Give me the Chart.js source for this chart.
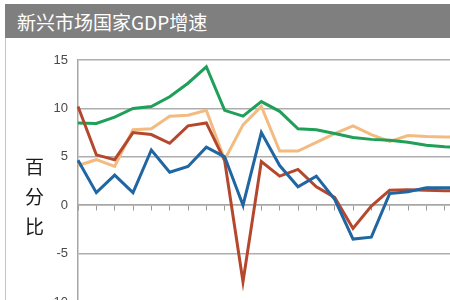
<!DOCTYPE html>
<html>
<head>
<meta charset="utf-8">
<script src="https://cdn.jsdelivr.net/npm/chart.js@4/dist/chart.umd.min.js"></script>
<style>
    html, body { margin: 0; padding: 0; width: 450px; height: 300px; overflow: hidden; background: #fff; }
    #wrap { position: relative; width: 450px; height: 300px; overflow: hidden; }
    #myChart { position: absolute; left: 0; top: 0; }
    #title {
        position: absolute; left: 5px; top: 4px; width: 445px; height: 34px;
        background: #7f7f7f; color: #fff; box-sizing: border-box; padding-left: 12px;
        font: 19px "Noto Sans CJK SC", sans-serif; line-height: 36px; white-space: nowrap;
    }
    #frame { position: absolute; left: 5px; top: 38px; width: 1px; height: 262px; background: #c4c4c4; }
    #ylabel {
        position: absolute; left: 25px; top: 151px; width: 20px;
        font: 19px "Noto Sans CJK SC", sans-serif; line-height: 30px; color: #1a1a1a;
    }
</style>
</head>
<body>
<div id="wrap">
    <canvas id="myChart" width="480" height="320"></canvas>
    <div id="title">新兴市场国家GDP增速</div>
    <div id="frame"></div>
    <div id="ylabel">百<br>分<br>比</div>
</div>
<script>
const years = ['2000', '2001', '2002', '2003', '2004', '2005', '2006', '2007', '2008', '2009', '2010',
               '2011', '2012', '2013', '2014', '2015', '2016', '2017', '2018', '2019', '2020', '2021'];

const china  = [8.5, 8.45, 9.1, 10.0, 10.2, 11.2, 12.6, 14.3, 9.8, 9.2, 10.7, 9.7, 7.9, 7.8, 7.4, 7.0, 6.8, 6.7, 6.5, 6.2, 6.05, 5.95];
const india  = [4.1, 4.7, 4.0, 7.8, 7.9, 9.2, 9.3, 9.8, 4.7, 8.3, 10.2, 5.6, 5.6, 6.5, 7.4, 8.2, 7.3, 6.6, 7.2, 7.1, 7.05, 7.05];
const russia = [10.2, 5.2, 4.7, 7.5, 7.3, 6.4, 8.2, 8.5, 4.6, -7.9, 4.5, 3.0, 3.7, 1.9, 0.8, -2.4, -0.1, 1.55, 1.6, 1.55, 1.5, 1.5];
const brazil = [4.65, 1.3, 3.1, 1.3, 5.7, 3.4, 4.0, 6.0, 5.0, 0.0, 7.5, 4.1, 1.9, 3.0, 0.6, -3.5, -3.3, 1.2, 1.4, 1.8, 1.8, 1.8];

const yMin = -10;
const yMax = 15;
const yStep = 5;

function line(label, data, color, order) {
    return {
        label: label,
        data: data,
        borderColor: color,
        backgroundColor: color,
        borderWidth: 3,
        pointRadius: 0,
        tension: 0,
        fill: false,
        order: order,
    };
}

const ctx = document.getElementById('myChart').getContext('2d');

const myChart = new Chart(ctx, {
    type: 'line',
    data: {
        labels: years,
        datasets: [
            line('中国', china, '#1f9f58', 3),
            line('印度', india, '#f3bb80', 4),
            line('俄罗斯', russia, '#b5482c', 2),
            line('巴西', brazil, '#1f66a3', 1),
        ],
    },
    options: {
        responsive: false,
        devicePixelRatio: 1,
        animation: false,
        layout: {
            padding: { left: 0, top: 60, right: 17, bottom: 18 }
        },
        plugins: {
            legend: { display: false },
            title: { display: false },
            tooltip: { enabled: false },
        },
        scales: {
            x: {
                type: 'category',
                offset: false,
                position: { y: 0 },
                ticks: { display: false },
                grid: {
                    drawOnChartArea: false,
                    drawTicks: true,
                    tickLength: 5,
                    tickColor: '#9a9a9a',
                },
                border: { color: '#a6a6a6', width: 1.5 },
            },
            y: {
                min: yMin,
                max: yMax,
                ticks: {
                    stepSize: yStep,
                    padding: 10,
                    color: '#4a4a4a',
                    font: { family: 'Liberation Sans', size: 13 },
                },
                grid: {
                    drawTicks: false,
                    color: '#adadad',
                    lineWidth: 1.5,
                },
                border: { color: '#a6a6a6', width: 1.5 },
                afterFit: scale => {
                    scale.width = 78;
                    scale.paddingTop = 0;
                    scale.paddingBottom = 0;
                },
            },
        },
    },
});
</script>
</body>
</html>
